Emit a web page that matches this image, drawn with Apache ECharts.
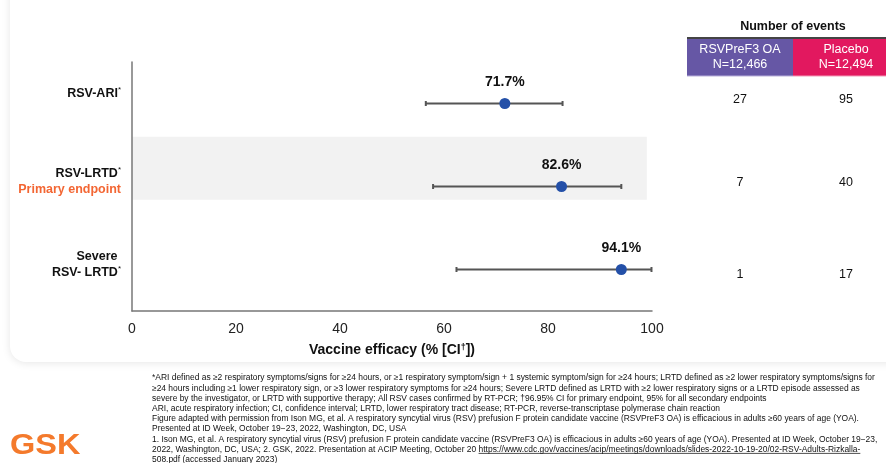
<!DOCTYPE html>
<html>
<head>
<meta charset="utf-8">
<script src="https://cdn.jsdelivr.net/npm/echarts@6/dist/echarts.min.js"></script>
<style>
html,body{margin:0;padding:0;background:#fff;}
#c{width:886px;height:463px;}
</style>
</head>
<body>
<div id="c"></div>
<script>
// ---- data ----
const categories = ['RSV-ARI', 'RSV-LRTD', 'Severe RSV-LRTD'];
const efficacy = [71.7, 82.6, 94.1];
const ciLow = [56.5, 57.9, 62.4];
const ciHigh = [82.8, 94.1, 99.9];
const vaccineEvents = [27, 7, 1];
const placeboEvents = [95, 40, 17];
const xTicks = [0, 20, 40, 60, 80, 100];

const FONT = '"Liberation Sans", Arial, sans-serif';
const FOOT_FONT = '8.45px ' + FONT;

const footLines = [
  '*ARI defined as \u22652 respiratory symptoms/signs for \u226524 hours, or \u22651 respiratory symptom/sign + 1 systemic symptom/sign for \u226524 hours; LRTD defined as \u22652 lower respiratory symptoms/signs for',
  '\u226524 hours including \u22651 lower respiratory sign, or \u22653 lower respiratory symptoms for \u226524 hours; Severe LRTD defined as LRTD with \u22652 lower respiratory signs or a LRTD episode assessed as',
  'severe by the investigator, or LRTD with supportive therapy; All RSV cases confirmed by RT-PCR; \u202096.95% CI for primary endpoint, 95% for all secondary endpoints',
  'ARI, acute respiratory infection; CI, confidence interval; LRTD, lower respiratory tract disease; RT-PCR, reverse-transcriptase polymerase chain reaction',
  'Figure adapted with permission from Ison MG, et al. A respiratory syncytial virus (RSV) prefusion F protein candidate vaccine (RSVPreF3 OA) is efficacious in adults \u226560 years of age (YOA).',
  'Presented at ID Week, October 19\u221223, 2022, Washington, DC, USA',
  '1. Ison MG, et al. A respiratory syncytial virus (RSV) prefusion F protein candidate vaccine (RSVPreF3 OA) is efficacious in adults \u226560 years of age (YOA). Presented at ID Week, October 19\u221223,',
  '2022, Washington, DC, USA; 2. GSK, 2022. Presentation at ACIP Meeting, October 20 https://www.cdc.gov/vaccines/acip/meetings/downloads/slides-2022-10-19-20/02-RSV-Adults-Rizkalla-',
  '508.pdf (accessed January 2023)'
];

const measureCtx = document.createElement('canvas').getContext('2d');
function textW(t, font) { measureCtx.font = font; return measureCtx.measureText(t).width; }

const chart = echarts.init(document.getElementById('c'), null, {renderer: 'canvas'});

const rowLabelRich = {
  b: {fontFamily: FONT, fontWeight: 'bold', fontSize: 12.5, color: '#111', lineHeight: 16, align: 'right'},
  s: {fontFamily: FONT, fontSize: 8, color: '#111', verticalAlign: 'top', lineHeight: 16},
  o: {fontFamily: FONT, fontWeight: 'bold', fontSize: 12.5, color: '#F36633', lineHeight: 16, align: 'right'},
  e: {fontSize: 1, lineHeight: 9}
};

const graphics = [];
// card
graphics.push({
  type: 'rect', z: -10, silent: true,
  shape: {x: 10, y: -30, width: 900, height: 392, r: 16},
  style: {fill: '#fff', shadowBlur: 8, shadowColor: 'rgba(0,0,0,0.10)', shadowOffsetY: 1}
});
// table
graphics.push({type: 'text', x: 793, y: 27, style: {text: 'Number of events', font: 'bold 12.5px ' + FONT, fill: '#111', textAlign: 'center', textVerticalAlign: 'middle'}});
graphics.push({type: 'rect', shape: {x: 687, y: 38, width: 106, height: 38}, style: {fill: '#6657A5'}});
graphics.push({type: 'rect', shape: {x: 793, y: 38, width: 93, height: 38}, style: {fill: '#E2185F'}});
graphics.push({type: 'line', shape: {x1: 687, y1: 38, x2: 886, y2: 38}, style: {stroke: '#444', lineWidth: 2}});
graphics.push({type: 'line', shape: {x1: 687, y1: 76, x2: 793, y2: 76}, style: {stroke: '#B9B0DA', lineWidth: 1}});
graphics.push({type: 'line', shape: {x1: 793, y1: 76, x2: 886, y2: 76}, style: {stroke: '#F39AB8', lineWidth: 1}});
graphics.push({type: 'text', x: 740, y: 57, style: {text: 'RSVPreF3 OA\nN=12,466', font: '12.5px ' + FONT, fill: '#fff', textAlign: 'center', textVerticalAlign: 'middle', lineHeight: 15}});
graphics.push({type: 'text', x: 846, y: 57, style: {text: 'Placebo\nN=12,494', font: '12.5px ' + FONT, fill: '#fff', textAlign: 'center', textVerticalAlign: 'middle', lineHeight: 15}});
const eventY = [100, 183, 275];
vaccineEvents.forEach((v, i) => {
  graphics.push({type: 'text', x: 740, y: eventY[i], style: {text: String(v), font: '12.5px ' + FONT, fill: '#111', textAlign: 'center', textVerticalAlign: 'middle'}});
  graphics.push({type: 'text', x: 846, y: eventY[i], style: {text: String(placeboEvents[i]), font: '12.5px ' + FONT, fill: '#111', textAlign: 'center', textVerticalAlign: 'middle'}});
});
// footnotes
const FOOT_X = 152, FOOT_Y0 = 378, FOOT_DY = 10.2;
footLines.forEach((t, i) => {
  graphics.push({type: 'text', x: FOOT_X, y: FOOT_Y0 + i * FOOT_DY, style: {
    text: t, font: FOOT_FONT, fill: '#111', textVerticalAlign: 'middle'
  }});
});
// underline for URL
(function () {
  const l8 = footLines[7];
  const idx = l8.indexOf('https');
  const x1 = FOOT_X + textW(l8.slice(0, idx), FOOT_FONT);
  const x2 = FOOT_X + textW(l8, FOOT_FONT);
  const y8 = FOOT_Y0 + 7 * FOOT_DY + 4;
  graphics.push({type: 'line', shape: {x1: x1, y1: y8, x2: x2, y2: y8}, style: {stroke: '#222', lineWidth: 0.8}});
  const w9 = textW('508.pdf', FOOT_FONT);
  const y9 = FOOT_Y0 + 8 * FOOT_DY + 4;
  graphics.push({type: 'line', shape: {x1: FOOT_X, y1: y9, x2: FOOT_X + w9, y2: y9}, style: {stroke: '#222', lineWidth: 0.8}});
})();
// logo
graphics.push({type: 'text', x: 10, y: 446, scaleX: 1.12, style: {
  text: 'GSK', font: 'bold 29px ' + FONT, textVerticalAlign: 'middle', fill: '#F47A2C'
}});

chart.setOption({
  animation: false,
  backgroundColor: '#fff',
  grid: {left: 132, right: 234, top: 62, bottom: 152, containLabel: false},
  xAxis: {
    type: 'value', min: 0, max: 100, interval: 20,
    axisLine: {show: true, onZero: false, lineStyle: {color: '#777', width: 1.5}},
    axisTick: {show: false},
    splitLine: {show: false},
    axisLabel: {fontFamily: FONT, fontSize: 14, color: '#222', margin: 11},
    name: 'Vaccine efficacy (% [CI{s|\u2020}])',
    nameLocation: 'middle', nameGap: 32,
    nameTextStyle: {fontFamily: FONT, fontWeight: 'bold', fontSize: 14, color: '#111',
      rich: {s: {fontFamily: FONT, fontWeight: 'bold', fontSize: 9, color: '#111', verticalAlign: 'top', padding: [0, 0, 6, 0]}}}
  },
  yAxis: [{
    type: 'category', inverse: true, data: categories,
    axisLine: {show: true, onZero: false, lineStyle: {color: '#777', width: 1.5}},
    axisTick: {show: false},
    axisLabel: {
      margin: 11,
      formatter: function (v, i) {
        if (i === 0) return '{b|RSV-ARI}{s|*}\n{e|}';
        if (i === 1) return '{b|RSV-LRTD}{s|*}\n{o|Primary endpoint}';
        return '{b|Severe }\n{b|RSV- LRTD}{s|*}';
      },
      rich: rowLabelRich,
      align: 'right',
      padding: [0, 0, 10, 0]
    }
  }, {
    type: 'value', min: 0, max: 3, inverse: true, show: false
  }],
  series: [{
    type: 'custom',
    yAxisIndex: 1,
    silent: true,
    z: 0,
    data: [[0, 99, 0.9, 1.66]],
    renderItem: function (params, api) {
      const p1 = api.coord([api.value(0), api.value(2)]);
      const p2 = api.coord([api.value(1), api.value(3)]);
      return {type: 'rect', shape: {x: p1[0], y: p1[1], width: p2[0] - p1[0], height: p2[1] - p1[1]}, style: {fill: '#F2F2F2'}};
    }
  }, {
    type: 'custom',
    yAxisIndex: 0,
    z: 5,
    data: categories.map((c, i) => [i, ciLow[i], ciHigh[i], efficacy[i]]),
    renderItem: function (params, api) {
      const cat = api.value(0);
      const lo = api.coord([api.value(1), cat]);
      const hi = api.coord([api.value(2), cat]);
      const pt = api.coord([api.value(3), cat]);
      const stroke = {stroke: '#555', lineWidth: 2};
      return {type: 'group', children: [
        {type: 'line', shape: {x1: lo[0], y1: lo[1], x2: hi[0], y2: hi[1]}, style: stroke},
        {type: 'line', shape: {x1: lo[0], y1: lo[1] - 2.5, x2: lo[0], y2: lo[1] + 2.5}, style: stroke},
        {type: 'line', shape: {x1: hi[0], y1: hi[1] - 2.5, x2: hi[0], y2: hi[1] + 2.5}, style: stroke},
        {type: 'circle', shape: {cx: pt[0], cy: pt[1], r: 5.5}, style: {fill: '#2450A8'}},
        {type: 'text', x: pt[0], y: pt[1] - 21, style: {text: api.value(3).toFixed(1) + '%', font: 'bold 14px ' + FONT, fill: '#111', textAlign: 'center', textVerticalAlign: 'middle'}}
      ]};
    }
  }],
  graphic: graphics
});
</script>
</body>
</html>
